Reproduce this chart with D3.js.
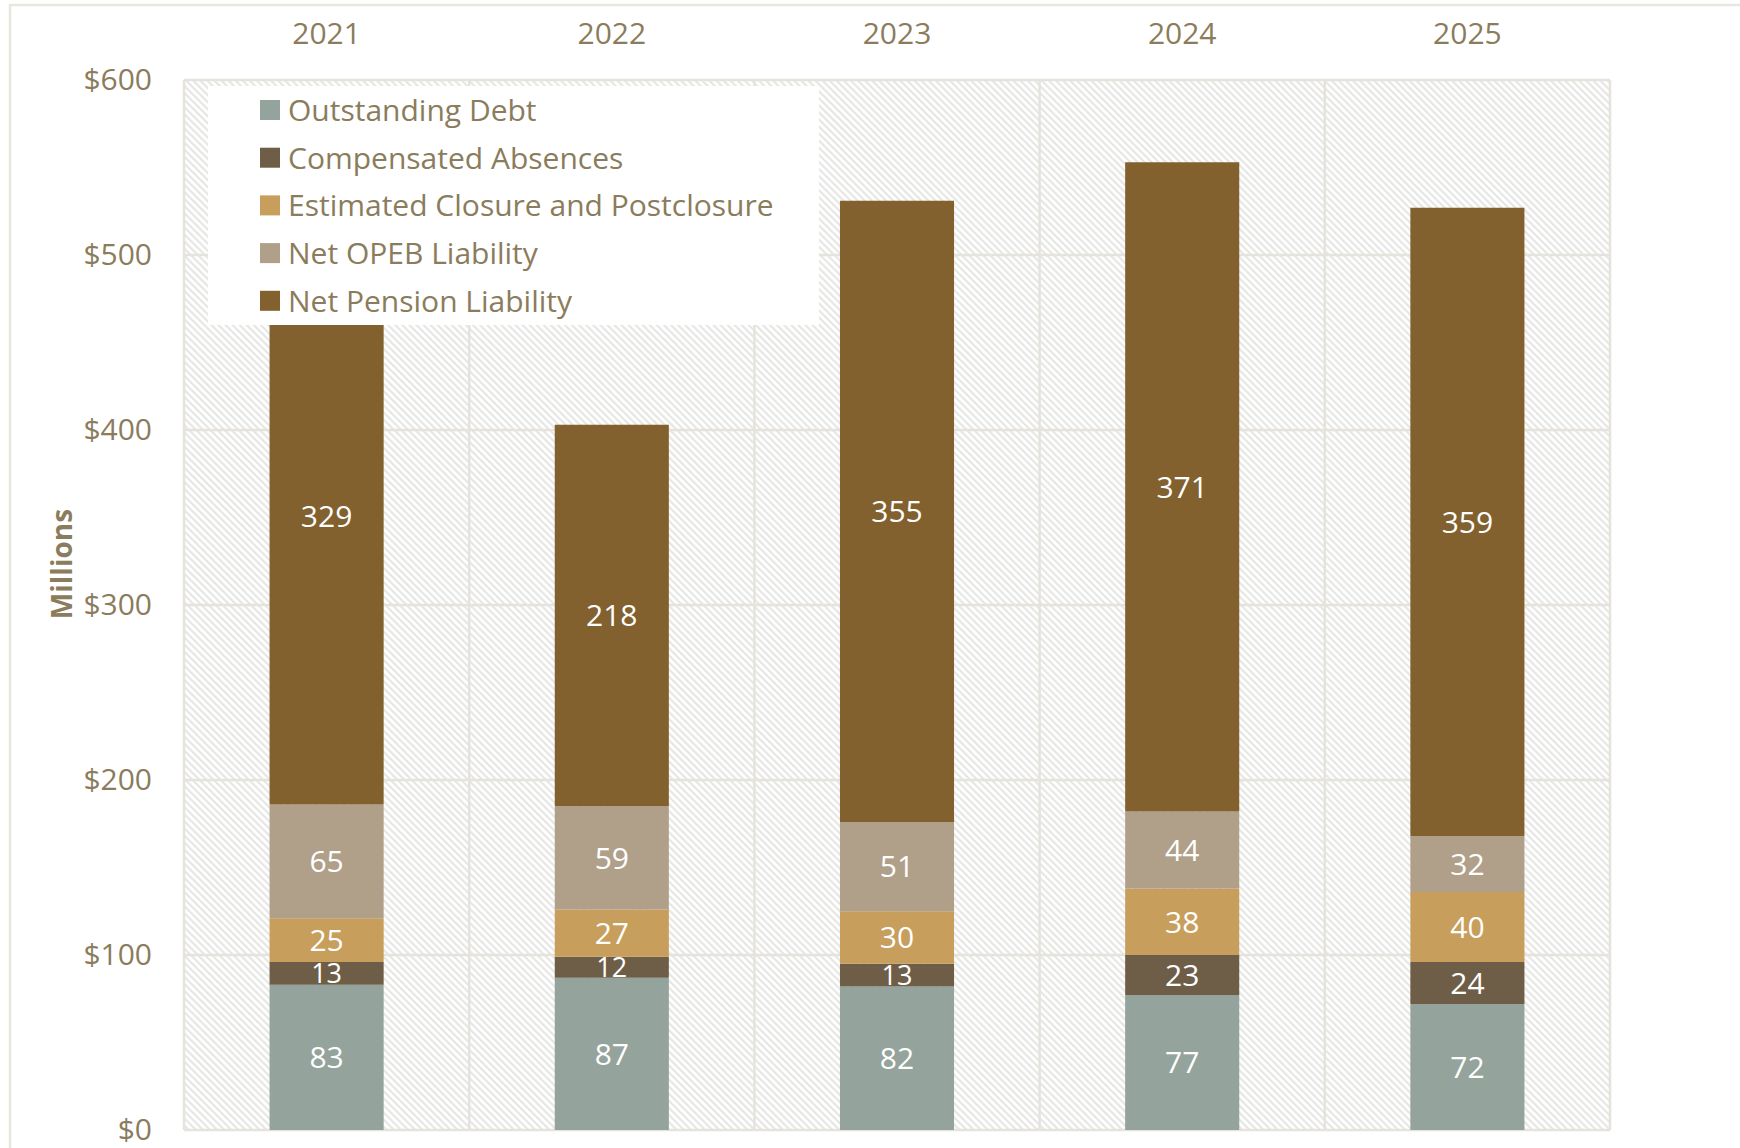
<!DOCTYPE html>
<html>
<head>
<meta charset="utf-8">
<script src="https://cdn.jsdelivr.net/npm/d3@7"></script>
<style>
  html, body { margin: 0; padding: 0; background: #fff; }
  svg text { font-family: 'Open Sans', sans-serif; }
</style>
</head>
<body>
<div id="chart"></div>
<script>
'use strict';

var years = ['2021', '2022', '2023', '2024', '2025']
var seriesNames = ['Outstanding Debt', 'Compensated Absences', 'Estimated Closure and Postclosure', 'Net OPEB Liability', 'Net Pension Liability']
var outstandingDebt = [83, 87, 82, 77, 72]
var compensatedAbsences = [13, 12, 13, 23, 24]
var closurePostclosure = [25, 27, 30, 38, 40]
var netOpeb = [65, 59, 51, 44, 32]
var netPension = [329, 218, 355, 371, 359]
var yTicks = [0, 100, 200, 300, 400, 500, 600]

var colors = ['#94A39B', '#6E5E48', '#C89E5C', '#B0A08A', '#82612F']
var textColor = '#8A7C5C'
var gridColor = '#E6E3DC'
var fontSize = '30px'

var seriesValues = [outstandingDebt, compensatedAbsences, closurePostclosure, netOpeb, netPension]
var rows = years.map(function(y, i){
  var r = {year: y}
  seriesNames.forEach(function(s, j){ r[s] = seriesValues[j][i] })
  return r
})

var W = 1740, H = 1148
var margin = {top: 80, right: 130, bottom: 18, left: 184}
var width = W - margin.left - margin.right,
    height = H - margin.top - margin.bottom

var svg = d3.select('#chart').append('svg')
    .attr('width', W)
    .attr('height', H)

// outer frame
svg.append('rect')
    .attr('x', 10).attr('y', 5)
    .attr('width', W + 20).attr('height', H + 20)
    .attr('fill', 'none')
    .attr('stroke', '#E8E6DF')
    .attr('stroke-width', 2.5)

// hatch pattern for plot background (lines running top-left to bottom-right)
var pat = svg.append('defs').append('pattern')
    .attr('id', 'hatch')
    .attr('patternUnits', 'userSpaceOnUse')
    .attr('width', 5).attr('height', 5)
    .attr('patternTransform', 'rotate(-45)')
pat.append('rect').attr('width', 5).attr('height', 5).attr('fill', '#fff')
pat.append('rect').attr('width', 2.2).attr('height', 5).attr('fill', '#E6E6E4')

var g = svg.append('g')
    .attr('transform', 'translate(' + margin.left + ',' + margin.top + ')')

var x = d3.scaleBand()
    .domain(years)
    .range([0, width])
    .paddingInner(0.6)
    .paddingOuter(0.3)

var y = d3.scaleLinear()
    .domain([0, 600])
    .range([height, 0])

g.append('rect')
    .attr('width', width).attr('height', height)
    .attr('fill', 'url(#hatch)')

// horizontal gridlines
g.selectAll('.hgrid')
    .data(yTicks)
  .enter().append('line')
    .attr('x1', 0).attr('x2', width)
    .attr('y1', function(d){ return y(d) }).attr('y2', function(d){ return y(d) })
    .attr('stroke', gridColor)
    .attr('stroke-width', 2.5)

// vertical gridlines at category boundaries
var step = x.step()
g.selectAll('.vgrid')
    .data(d3.range(years.length + 1))
  .enter().append('line')
    .attr('x1', function(i){ return i * step }).attr('x2', function(i){ return i * step })
    .attr('y1', 0).attr('y2', height)
    .attr('stroke', gridColor)
    .attr('stroke-width', 2.5)

var stack = d3.stack().keys(seriesNames)(rows)

var layers = g.selectAll('.layer')
    .data(stack)
  .enter().append('g')
    .attr('fill', function(d, i){ return colors[i] })

layers.selectAll('rect')
    .data(function(d){ return d })
  .enter().append('rect')
    .attr('x', function(d){ return x(d.data.year) })
    .attr('width', x.bandwidth())
    .attr('y', function(d){ return y(d[1]) })
    .attr('height', function(d){ return y(d[0]) - y(d[1]) })

layers.selectAll('text')
    .data(function(d){ return d })
  .enter().append('text')
    .attr('x', function(d){ return x(d.data.year) + x.bandwidth() / 2 })
    .attr('y', function(d){ return (y(d[0]) + y(d[1])) / 2 })
    .attr('dy', '0.36em')
    .attr('text-anchor', 'middle')
    .attr('font-size', function(d){ return (d[1] - d[0]) < 20 ? '27px' : fontSize })
    .attr('fill', '#fff')
    .text(function(d){ return d[1] - d[0] })

// y axis labels
var yAxis = d3.axisLeft(y)
    .tickValues(yTicks)
    .tickSize(0)
    .tickPadding(32)
    .tickFormat(function(d){ return '$' + d })
var ya = g.append('g').call(yAxis)
ya.select('.domain').remove()
ya.selectAll('text')
    .attr('font-size', fontSize)
    .attr('font-family', "'Open Sans', sans-serif")
    .attr('fill', textColor)

// category labels at top
var xAxis = d3.axisTop(x).tickSize(0).tickPadding(36)
var xa = g.append('g').call(xAxis)
xa.select('.domain').remove()
xa.selectAll('text')
    .attr('font-size', fontSize)
    .attr('font-family', "'Open Sans', sans-serif")
    .attr('fill', textColor)

// axis title
svg.append('text')
    .attr('transform', 'translate(62,564) rotate(-90)')
    .attr('text-anchor', 'middle')
    .attr('dy', '0.36em')
    .attr('font-size', '28px')
    .attr('font-weight', 'bold')
    .attr('fill', textColor)
    .text('Millions')

// legend
var legend = svg.append('g').attr('transform', 'translate(208,86)')
legend.append('rect')
    .attr('width', 611).attr('height', 239)
    .attr('fill', '#fff')

var items = legend.selectAll('.item')
    .data(seriesNames)
  .enter().append('g')
    .attr('transform', function(d, i){ return 'translate(52,' + (24 + i * 47.7) + ')' })
items.append('rect')
    .attr('x', 0).attr('y', -10)
    .attr('width', 20).attr('height', 20)
    .attr('fill', function(d, i){ return colors[i] })
items.append('text')
    .attr('x', 28)
    .attr('dy', '0.36em')
    .attr('font-size', fontSize)
    .attr('fill', textColor)
    .text(function(d){ return d })
</script>
</body>
</html>
